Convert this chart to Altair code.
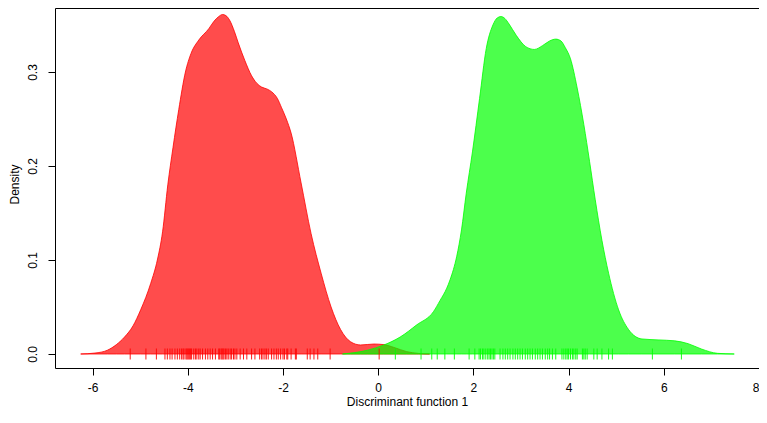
import altair as alt
import pandas as pd

# Density curve of group 1 (red)
red_x = [-6.25, -5.95, -5.69, -5.50, -5.33, -5.15, -4.99, -4.78, -4.64, -4.53, -4.42, -4.31,
         -4.19, -4.05, -3.93, -3.77, -3.56, -3.45, -3.35, -3.27, -3.20, -3.12, -3.02, -2.94,
         -2.80, -2.66, -2.55, -2.45, -2.34, -2.24, -2.12, -2.03, -1.93, -1.83, -1.62, -1.41,
         -1.20, -0.99, -0.79, -0.58, -0.37, -0.09, 0.12, 0.33, 0.60, 0.85, 1.08]
red_y = [0.0, 0.001, 0.004, 0.010, 0.018, 0.030, 0.047, 0.075, 0.10, 0.13, 0.18, 0.22,
         0.26, 0.30, 0.32, 0.334, 0.346, 0.354, 0.359, 0.3612, 0.360, 0.355, 0.343, 0.331,
         0.312, 0.296, 0.288, 0.284, 0.282, 0.279, 0.272, 0.262, 0.250, 0.235, 0.182, 0.128,
         0.086, 0.050, 0.026, 0.013, 0.0096, 0.0106, 0.010, 0.007, 0.0025, 0.0006, 0.0]

# Density curve of group 2 (green)
green_x = [-0.75, -0.23, 0.12, 0.46, 0.81, 1.16, 1.30, 1.44, 1.51, 1.65, 1.75, 1.85, 1.98,
           2.13, 2.27, 2.41, 2.50, 2.58, 2.66, 2.75, 2.90, 3.10, 3.28, 3.45, 3.60, 3.73,
           3.84, 3.93, 4.04, 4.18, 4.32, 4.44, 4.56, 4.70, 4.84, 5.05, 5.26, 5.54, 5.88,
           6.23, 6.51, 6.79, 7.13, 7.48]
green_y = [0.0, 0.004, 0.0096, 0.018, 0.031, 0.045, 0.057, 0.070, 0.079, 0.104, 0.132, 0.171,
           0.215, 0.272, 0.325, 0.350, 0.3575, 0.359, 0.357, 0.351, 0.339, 0.327, 0.324, 0.328,
           0.333, 0.335, 0.333, 0.326, 0.314, 0.283, 0.244, 0.205, 0.164, 0.121, 0.086, 0.047,
           0.026, 0.016, 0.015, 0.014, 0.011, 0.0053, 0.0007, 0.0]

# Rug (observed scores)
red_rug = [-5.21, -4.88, -4.66, -4.48, -4.43, -4.375, -4.33, -4.27, -4.22, -4.17, -4.13, -4.10,
           -4.08, -4.04, -4.02, -4.0, -3.98, -3.96, -3.94, -3.92, -3.875, -3.84, -3.81, -3.77,
           -3.74, -3.69, -3.63, -3.58, -3.53, -3.48, -3.42, -3.35, -3.33, -3.30, -3.28, -3.26,
           -3.24, -3.21, -3.18, -3.15, -3.11, -3.08, -3.04, -3.01, -2.97, -2.90, -2.83, -2.76,
           -2.66, -2.59, -2.49, -2.45, -2.42, -2.38, -2.35, -2.31, -2.24, -2.19, -2.14, -2.10,
           -2.05, -2.0, -1.97, -1.92, -1.90, -1.83, -1.74, -1.72, -1.49, -1.43, -1.35, -1.27,
           -1.01, 0.02]
green_rug = [0.36, 0.90, 1.125, 1.24, 1.40, 1.60, 1.91, 2.03, 2.12, 2.15, 2.19, 2.22, 2.26,
             2.30, 2.33, 2.36, 2.39, 2.42, 2.45, 2.56, 2.62, 2.67, 2.72, 2.77, 2.83, 2.88,
             2.93, 2.98, 3.03, 3.09, 3.14, 3.19, 3.24, 3.30, 3.35, 3.40, 3.45, 3.51, 3.56,
             3.60, 3.66, 3.73, 3.86, 3.90, 3.94, 3.97, 4.0, 4.04, 4.08, 4.11, 4.15, 4.18,
             4.29, 4.32, 4.35, 4.39, 4.53, 4.60, 4.70, 4.84, 4.92, 5.76, 6.37]

x_ticks = [-6, -4, -2, 0, 2, 4, 6, 8]
y_ticks = [0.0, 0.1, 0.2, 0.3]

red_df = pd.DataFrame({"x": red_x, "y": red_y})
green_df = pd.DataFrame({"x": green_x, "y": green_y})
red_rug_df = pd.DataFrame({"x": red_rug, "y": [0.0] * len(red_rug)})
green_rug_df = pd.DataFrame({"x": green_rug, "y": [0.0] * len(green_rug)})

FONT = "Liberation Sans"
xscale = alt.Scale(domain=[-6.79, 8.0], nice=False, zero=False)
yscale = alt.Scale(domain=[-0.0149, 0.3681], nice=False, zero=False)

xaxis = alt.Axis(values=x_ticks, title="Discriminant function 1", domain=False, grid=False,
                 tickSize=7, tickColor="black", labelPadding=7,
                 labelExpr="'' + datum.value", titlePadding=3)
yaxis = alt.Axis(values=y_ticks, title="Density", domain=False, grid=False, format=".1f",
                 tickSize=7, tickColor="black", labelAngle=270, labelAlign="center",
                 labelBaseline="bottom", labelPadding=9,
                 titleAngle=270, titleAlign="center", titleBaseline="bottom",
                 titleX=-34, titleY=176)

X = alt.X("x:Q", scale=xscale, axis=xaxis)
Y = alt.Y("y:Q", scale=yscale, axis=yaxis)

red_area = alt.Chart(red_df).mark_area(
    interpolate="monotone", color="#FF0000", fillOpacity=0.7,
    stroke="#FF0000", strokeWidth=1, strokeOpacity=0.8
).encode(x=X, y=Y)

green_area = alt.Chart(green_df).mark_area(
    interpolate="monotone", color="#00FF00", fillOpacity=0.7,
    stroke="#00FF00", strokeWidth=1, strokeOpacity=0.8
).encode(x=X, y=Y)

red_rug_m = alt.Chart(red_rug_df).mark_tick(
    orient="vertical", color="#FF0000", size=11, thickness=1, opacity=0.9
).encode(x=X, y=Y)

green_rug_m = alt.Chart(green_rug_df).mark_tick(
    orient="vertical", color="#00FF00", size=11, thickness=1, opacity=0.9
).encode(x=X, y=Y)

chart = alt.layer(red_area, green_area, red_rug_m, green_rug_m).properties(
    width=704, height=360,
    autosize=alt.AutoSizeParams(type="none"),
    padding={"left": 47, "top": 0, "right": 0, "bottom": 42},
    background="white",
).configure_view(
    stroke="black", strokeWidth=1
).configure_axis(
    labelFont=FONT, labelFontSize=12, labelColor="black",
    titleFont=FONT, titleFontSize=12, titleFontWeight="normal", titleColor="black",
)

chart.save("out.html", embed_options={"renderer": "svg", "actions": False})
